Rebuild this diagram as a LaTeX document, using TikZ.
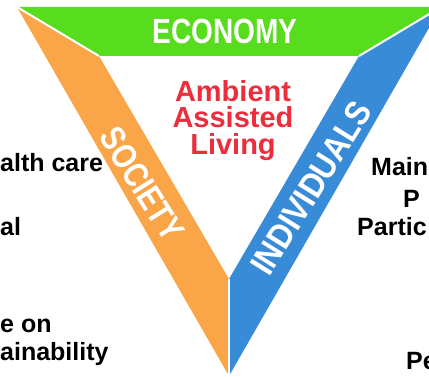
\documentclass[tikz,border=0pt]{standalone}
\usepackage{fontspec}
\setmainfont{Liberation Sans}
\usepackage{xcolor}
\usetikzlibrary{positioning}

\definecolor{econgreen}{RGB}{88,220,30}
\definecolor{socorange}{RGB}{250,166,72}
\definecolor{indblue}{RGB}{56,140,215}
\definecolor{aalred}{RGB}{235,45,60}

\tikzset{
  bandlabel/.style={text=white, inner sep=0pt, font=\fontsize{35}{35}\selectfont\bfseries},
  aallabel/.style={text=aalred, inner sep=0pt, anchor=base, font=\fontsize{29}{29}\selectfont\bfseries},
  sidetext/.style={text=black, inner sep=0pt, anchor=base west, font=\fontsize{25}{25}\selectfont\bfseries},
  divider/.style={white, line width=2pt}
}

\begin{document}
\begin{tikzpicture}[x=1pt, y=-1pt]
\useasboundingbox (0,0) rectangle (429,377);
\clip (0,0) rectangle (429,377);

% corners of the triangle
\coordinate (outL) at (17,7);
\coordinate (outR) at (441,7);
\coordinate (outB) at (229,376);
\coordinate (inL) at (99,56);
\coordinate (inR) at (359,56);
\coordinate (inB) at (229,279);

% Economy
\fill[econgreen] (outL) -- (outR) -- (inR) -- (inL) -- cycle;
\node[bandlabel] (economy) at (225,31) {\scalebox{0.8}[1]{ECONOMY}};

% Society
\fill[socorange] (outL) -- (inL) -- (inB) -- (outB) -- cycle;
\node[bandlabel, rotate=-58] (society) at (142,184) {\scalebox{0.82}[1]{SOCIETY}};

% Individuals
\fill[indblue] (outR) -- (outB) -- (inB) -- (inR) -- cycle;
\node[bandlabel, rotate=58] (individuals) at (311,188) {\scalebox{0.88}[1]{INDIVIDUALS}};

% gaps between the bands
\draw[divider] (outL) -- (inL);
\draw[divider] (outR) -- (inR);
\draw[divider] (inB) -- (outB);

% Ambient Assisted Living
\node[aallabel] (ambient) at (233,102) {Ambient};
\node[aallabel] (assisted) at (233,128) {Assisted};
\node[aallabel] (living) at (233,155) {Living};

% left texts
\node[sidetext] (health) at (0,172) {alth care};
\node[sidetext] (financial) at (0,236) {al};
\node[sidetext] (pressure) at (0,333) {e on};
\node[sidetext] (sustain) at (0,360) {ainability};

% right texts
\node[sidetext] (maintain) at (371,176) {Main};
\node[sidetext] (prolong) at (403,208) {P};
\node[sidetext] (particip) at (357,236) {Partic};
\node[sidetext] (person) at (406,369) {Pe};
\end{tikzpicture}
\end{document}
